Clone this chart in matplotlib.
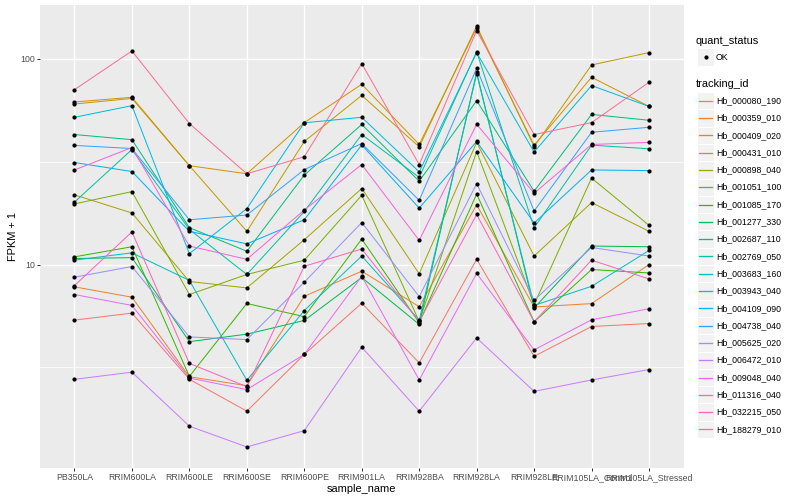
import matplotlib
matplotlib.use("Agg")
import matplotlib.pyplot as plt
from matplotlib.lines import Line2D
from matplotlib.patches import Rectangle
from matplotlib.ticker import NullFormatter
import numpy as np

plt.rcParams['font.family'] = ['Liberation Sans', 'DejaVu Sans']

samples = ["PB350LA", "RRIM600LA", "RRIM600LE", "RRIM600SE", "RRIM600PE",
           "RRIM901LA", "RRIM928BA", "RRIM928LA", "RRIM928LE",
           "RRIM105LA_Control", "RRIM105LA_Stressed"]

tracking_ids = ["Hb_000080_190", "Hb_000359_010", "Hb_000409_020", "Hb_000431_010",
                "Hb_000898_040", "Hb_001051_100", "Hb_001085_170", "Hb_001277_330",
                "Hb_002687_110", "Hb_002769_050", "Hb_003683_160", "Hb_003943_040",
                "Hb_004109_090", "Hb_004738_040", "Hb_005625_020", "Hb_006472_010",
                "Hb_009048_040", "Hb_011316_040", "Hb_032215_050", "Hb_188279_010"]

# ggplot hue palette, 20 levels
colors = ["#F8766D", "#EA8331", "#D89000", "#C09B00", "#A3A500", "#7CAE00",
          "#39B600", "#00BB4E", "#00BF7D", "#00C1A3", "#00BFC4", "#00BAE0",
          "#00B0F6", "#35A2FF", "#9590FF", "#C77CFF", "#E76BF3", "#FA62DB",
          "#FF62BC", "#FF6C91"]

# FPKM + 1, one value per sample
hb_000080_190 = [5.37, 5.81, 2.77, 1.94, 3.66, 6.49, 3.33, 10.6, 3.58, 5.00, 5.17]
hb_000359_010 = [7.79, 6.94, 2.85, 2.58, 7.01, 9.28, 6.24, 19.5, 6.22, 6.46, 10.0]
hb_000409_020 = [61.6, 64.9, 30.2, 27.6, 48.9, 75.1, 38.3, 141, 38.0, 81.2, 58.6]
hb_000431_010 = [60.2, 64.1, 30.2, 14.5, 39.6, 66.3, 37.3, 144, 37.4, 93.2, 107]
hb_000898_040 = [21.8, 17.8, 8.27, 7.70, 13.2, 23.4, 9.02, 39.2, 11.0, 20.0, 14.5]
hb_001051_100 = [19.7, 22.6, 7.15, 8.95, 10.5, 21.7, 5.29, 35.4, 6.39, 26.3, 15.5]
hb_001085_170 = [10.9, 12.2, 2.86, 6.47, 5.58, 13.3, 5.21, 22.0, 5.27, 9.46, 9.10]
hb_001277_330 = [10.7, 10.8, 4.22, 4.59, 5.35, 8.65, 5.12, 85.8, 6.15, 12.3, 12.2]
hb_002687_110 = [42.8, 40.4, 15.1, 11.6, 27.2, 47.9, 25.4, 62.5, 22.7, 53.6, 50.2]
hb_002769_050 = [20.1, 36.2, 14.8, 8.95, 18.1, 42.8, 26.5, 108, 15.1, 38.0, 36.5]
hb_003683_160 = [10.5, 11.4, 8.37, 2.74, 5.98, 11.0, 5.37, 84.5, 6.33, 7.84, 11.7]
hb_003943_040 = [51.9, 59.1, 11.3, 18.7, 48.8, 51.9, 28.2, 107, 35.2, 74.0, 58.6]
hb_004109_090 = [31.3, 28.3, 14.5, 12.6, 16.5, 38.1, 18.8, 39.6, 15.9, 28.8, 28.6]
hb_004738_040 = [37.9, 36.6, 16.5, 17.4, 28.9, 38.7, 20.5, 89.7, 18.2, 43.9, 46.4]
hb_005625_020 = [8.68, 9.78, 4.45, 4.32, 8.21, 16.0, 6.99, 24.7, 6.71, 12.1, 11.0]
hb_006472_010 = [2.77, 3.00, 1.64, 1.30, 1.56, 3.97, 1.94, 4.40, 2.42, 2.75, 3.09]
hb_009048_040 = [7.15, 6.33, 2.81, 2.47, 3.66, 8.77, 2.75, 9.05, 3.85, 5.39, 6.10]
hb_011316_040 = [28.8, 37.0, 12.3, 10.6, 18.4, 30.6, 13.1, 48.0, 22.2, 38.3, 39.2]
hb_032215_050 = [7.90, 14.4, 3.31, 2.55, 9.81, 11.9, 5.29, 17.5, 5.27, 10.5, 8.51]
hb_188279_010 = [70.7, 109, 48.4, 27.6, 33.4, 94.6, 30.6, 137, 42.8, 48.9, 76.8]

series = [hb_000080_190, hb_000359_010, hb_000409_020, hb_000431_010, hb_000898_040,
          hb_001051_100, hb_001085_170, hb_001277_330, hb_002687_110, hb_002769_050,
          hb_003683_160, hb_003943_040, hb_004109_090, hb_004738_040, hb_005625_020,
          hb_006472_010, hb_009048_040, hb_011316_040, hb_032215_050, hb_188279_010]

W, H = 800, 500
fig = plt.figure(figsize=(W / 72, H / 72), dpi=72)

def fx(px):
    return px / W

def fy(py):
    return 1 - py / H

ax = fig.add_axes([fx(40), fy(468), (683.5 - 40) / W, (468 - 5) / H])
ax.set_facecolor('#EBEBEB')
for s in ax.spines.values():
    s.set_visible(False)

x = np.arange(len(samples))
for vals, col in zip(series, colors):
    ax.plot(x, vals, color=col, lw=1.0, zorder=2)
for vals in series:
    ax.plot(x, vals, 'o', color='black', ms=4.2, mec='black', mew=0, zorder=3)

ax.set_yscale('log')
allv = np.log10(np.concatenate([np.array(v) for v in series]))
lo, hi = allv.min(), allv.max()
pad = (hi - lo) * 0.05
ax.set_ylim(10 ** (lo - pad), 10 ** (hi + pad))
ax.set_xlim(-0.6, len(samples) - 0.4)

ax.set_yticks([10, 100])
ax.set_yticklabels(['10', '100'])
ax.set_yticks([10 ** 0.5, 10 ** 1.5], minor=True)
ax.yaxis.set_minor_formatter(NullFormatter())
ax.set_xticks(x)
ax.set_xticklabels(samples)
ax.tick_params(which='major', length=2.75, width=1.0, color='#333333',
               labelcolor='#4D4D4D', labelsize=8.8, pad=2.2)
ax.tick_params(which='minor', length=0)
ax.grid(which='major', color='white', lw=1.4)
ax.grid(which='minor', axis='y', color='white', lw=0.7)
ax.set_axisbelow(True)

ax.set_xlabel('sample_name', fontsize=11, labelpad=2.5)
ax.set_ylabel('FPKM + 1', fontsize=11, labelpad=2.5)

# legends
fig.text(fx(696), fy(40.7), 'quant_status', fontsize=11, va='center', ha='left')
fig.add_artist(Rectangle((fx(697), fy(65.6)), 17 / W, 17.3 / H,
                         facecolor='#F2F2F2', edgecolor='white', lw=1, zorder=1))
fig.add_artist(Line2D([fx(705.5)], [fy(57)], marker='o', color='black', ms=4.2,
                      mew=0, zorder=5))
fig.text(fx(716), fy(57), 'OK', fontsize=8.8, va='center', ha='left')

fig.text(fx(696), fy(84.3), 'tracking_id', fontsize=11, va='center', ha='left')
for i, (tid, col) in enumerate(zip(tracking_ids, colors)):
    yc = 100.7 + i * 17.3
    fig.add_artist(Rectangle((fx(697), fy(yc + 8.65)), 17 / W, 17.3 / H,
                             facecolor='#F2F2F2', edgecolor='white', lw=1, zorder=1))
    fig.add_artist(Line2D([fx(699), fx(712)], [fy(yc), fy(yc)], color=col,
                          lw=1.3, zorder=5))
    fig.text(fx(716), fy(yc), tid, fontsize=8.8, va='center', ha='left')

fig.savefig('out.png', dpi=72)
